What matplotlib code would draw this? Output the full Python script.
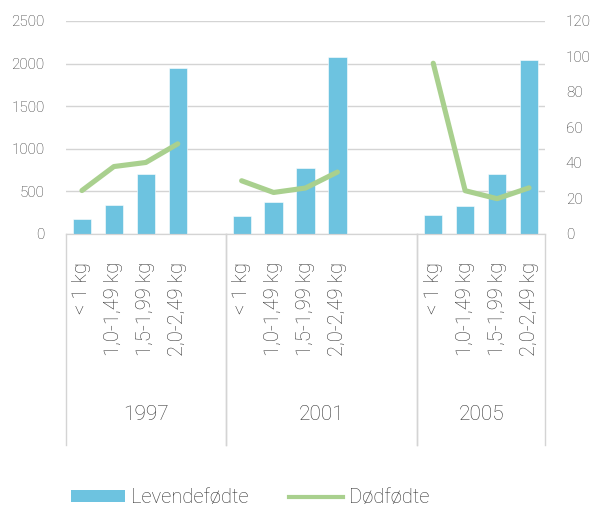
import numpy as np
import matplotlib
matplotlib.use("Agg")
import matplotlib.pyplot as plt
import matplotlib.transforms as mtransforms
from matplotlib.lines import Line2D
from matplotlib.patches import Patch

plt.rcParams['font.family'] = ['Roboto', 'DejaVu Sans']
plt.rcParams['font.weight'] = 'light'
TXT = '#333333'

# 15 category slots, blank slots separate the years
categories = ['< 1 kg', '1,0-1,49 kg', '1,5-1,99 kg', '2,0-2,49 kg', '',
              '< 1 kg', '1,0-1,49 kg', '1,5-1,99 kg', '2,0-2,49 kg', '', '',
              '< 1 kg', '1,0-1,49 kg', '1,5-1,99 kg', '2,0-2,49 kg']
years = ['1997', '2001', '2005']
year_slots = [(0, 5), (5, 11), (11, 15)]

levendefodte = [176, 343, 707, 1953, np.nan,
                206, 379, 773, 2082, np.nan, np.nan,
                218, 332, 707, 2043]
dodfodte = [24.5, 38, 40.3, 50.8, np.nan,
            30, 23.4, 25.9, 34.9, np.nan, np.nan,
            96.2, 24.4, 19.9, 26]

bar_color = '#6dc3e0'
line_color = '#a9d08e'
grid_color = '#d4d4d4'

fig = plt.figure(figsize=(5.93, 5.09), dpi=100)
ax = fig.add_axes([66/593, 1 - 234/509, (545 - 66)/593, (234 - 21)/509])
ax2 = ax.twinx()

x = np.arange(len(categories))
ax.bar(x, levendefodte, width=0.57, color=bar_color, edgecolor='white', linewidth=0.4, zorder=2)
ax2.plot(x, dodfodte, color=line_color, lw=3.7, solid_capstyle='round', solid_joinstyle='round', zorder=3)

ax.set_xlim(-0.5, len(categories) - 0.5)
ax.set_ylim(0, 2500)
ax.set_yticks(range(0, 2501, 500))
ax2.set_ylim(0, 120)
ax2.set_yticks(range(0, 121, 20))

ax.yaxis.grid(True, color=grid_color, lw=1)
ax.set_axisbelow(True)
for a in (ax, ax2):
    for s in ('top', 'left', 'right'):
        a.spines[s].set_visible(False)
    a.spines['bottom'].set_color(grid_color)
    a.tick_params(axis='y', length=0, labelsize=11, labelcolor=TXT)
ax.tick_params(axis='y', pad=15.5)
ax2.tick_params(axis='y', pad=15)

ax.set_xticks(x)
ax.set_xticklabels(categories, rotation=90, fontsize=14.5, color=TXT)
ax.tick_params(axis='x', length=0, pad=20)

# group separators and year labels below the axis
trans = mtransforms.blended_transform_factory(ax.transData, ax.transAxes)
bottom = -(445 - 234) / (234 - 21)
for lo, hi in year_slots:
    for edge in (lo - 0.5, hi - 0.5):
        ax.plot([edge, edge], [0, bottom], color=grid_color, lw=1, transform=trans, clip_on=False)
for yr, (lo, hi) in zip(years, year_slots):
    ax.text((lo + hi - 1) / 2, -(415 - 234) / (234 - 21), yr, transform=trans,
            ha='center', va='center', fontsize=15, color=TXT)

handles = [Patch(facecolor=bar_color, label='Levendefødte'),
           Line2D([], [], color=line_color, lw=3, label='Dødfødte')]
fig.legend(handles=handles, loc='center', bbox_to_anchor=(250/593, 1 - 498/509), ncol=2,
           frameon=False, fontsize=14.5, handlelength=2.7, handleheight=0.55,
           handletextpad=0.3, columnspacing=2.0, labelcolor=TXT)

fig.savefig('out.png', dpi=100)
